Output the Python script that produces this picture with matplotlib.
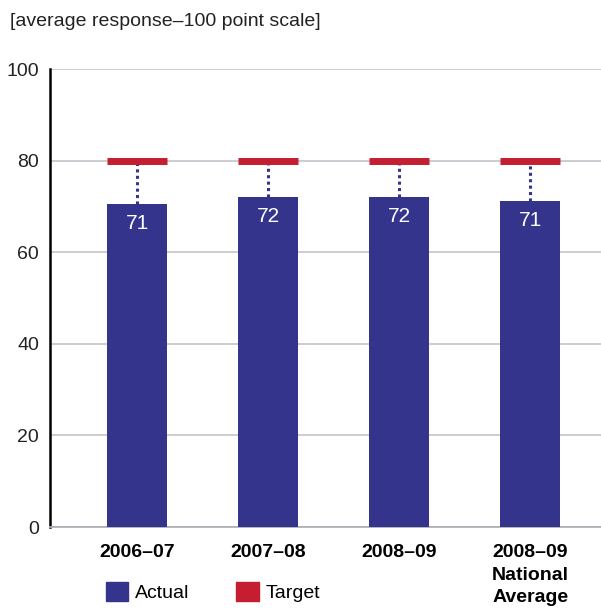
import numpy as np
import matplotlib.pyplot as plt
from matplotlib.patches import Patch

# data
categories = ['2006\u201307', '2007\u201308', '2008\u201309', '2008\u201309\nNational\nAverage']
actual = [70.5, 72.0, 72.0, 71.2]
actual_labels = ['71', '72', '72', '71']
target = [80, 80, 80, 80]
yticks = [0, 20, 40, 60, 80, 100]

navy = '#34348c'
red = '#c41e30'

plt.rcParams['font.family'] = ['Liberation Sans', 'DejaVu Sans']

fig = plt.figure(figsize=(6.01, 6.10), dpi=100)
ax = fig.add_axes([50 / 601, 83 / 610, 551 / 601, 458 / 610])

x = np.arange(len(categories))
width = 0.458

ax.bar(x, actual, width=width, color=navy, zorder=3)

# target markers and dotted connectors
for xi, a, t in zip(x, actual, target):
    ax.plot([xi, xi], [a, t - 0.6], color=navy, linestyle=(0, (1, 1.1)),
            linewidth=2.2, zorder=2)
    ax.plot([xi - width / 2, xi + width / 2], [t, t], color=red,
            linewidth=5, solid_capstyle='butt', zorder=4)

for xi, a, lab in zip(x, actual, actual_labels):
    ax.text(xi, a - 4.2, lab, ha='center', va='center', color='white',
            fontsize=15, zorder=5)

ax.set_xlim(-0.664, 3.54)
ax.set_ylim(0, 100)
ax.set_yticks(yticks)
ax.yaxis.grid(True, color='#c8c8d0', linewidth=1.3, zorder=0)
ax.set_axisbelow(True)
ax.tick_params(axis='y', length=0, pad=8, labelsize=14, labelcolor='#222222')
ax.tick_params(axis='x', length=0, pad=12)
ax.set_xticks(x)
ax.set_xticklabels(categories, fontsize=14, fontweight='bold', va='top',
                   linespacing=1.45)

for side in ['top', 'right']:
    ax.spines[side].set_visible(False)
ax.spines['left'].set_color('black')
ax.spines['left'].set_linewidth(1.8)
ax.spines['bottom'].set_color('#b0b0b8')
ax.spines['bottom'].set_linewidth(1.3)

fig.text(10 / 601, 1 - 22 / 610, '[average response\u2013100 point scale]',
         fontsize=14, va='center', ha='left', color='#222222')

handles = [Patch(color=navy, label='Actual'), Patch(color=red, label='Target')]
fig.legend(handles=handles, loc='center left',
           bbox_to_anchor=(106 / 601, 1 - 592 / 610), ncol=2, frameon=False,
           fontsize=14, handlelength=1.15, handleheight=1.15,
           handletextpad=0.35, columnspacing=2.4, borderaxespad=0,
           borderpad=0)

fig.savefig('out.png', dpi=100)
